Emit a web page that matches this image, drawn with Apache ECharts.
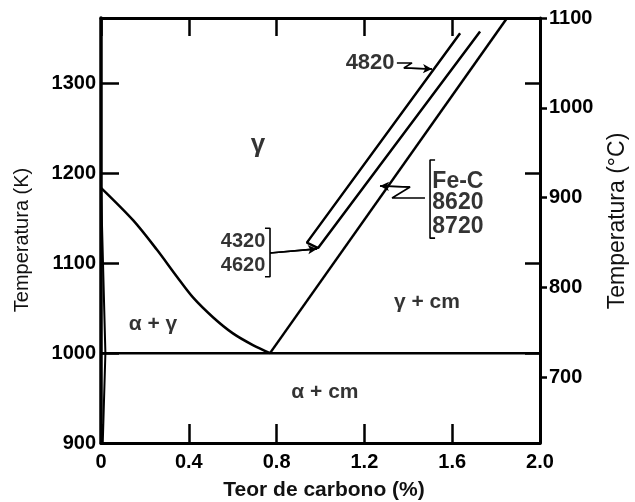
<!DOCTYPE html>
<html><head><meta charset="utf-8">
<script src="https://cdn.jsdelivr.net/npm/echarts@6/dist/echarts.min.js"></script>
<style>html,body{margin:0;padding:0;background:#fff}#c{width:635px;height:502px}</style>
</head><body><div id="c"></div>
<script>
// ---- axis ticks ----
const carbonTicks = [0, 0.4, 0.8, 1.2, 1.6, 2.0];
const kelvinTicks = [900, 1000, 1100, 1200, 1300];
const celsiusTicks = [700, 800, 900, 1000, 1100];

// ---- phase boundaries (carbon %, temperature K) ----
const a3Carbon = [0, 0.146, 0.255, 0.346, 0.419, 0.510, 0.601, 0.692, 0.77];
const a3Temp   = [1184, 1148, 1115, 1085, 1062, 1040, 1022, 1009, 1000];
const alphaCarbon = [0, 0.02, 0.008];
const alphaTemp   = [1184, 1000, 900];
const eutectoidCarbon = [0, 2.0];
const eutectoidTemp   = [1000, 1000];
const acmFeCCarbon = [0.77, 1.85];
const acmFeCTemp   = [1000, 1373];
const acmAlloyCarbon = [1.636, 0.938, 0.989, 1.727];
const acmAlloyTemp   = [1356, 1123, 1117, 1358];

// ---- annotation pointers ----
const bracket4320Carbon = [0.747, 0.770, 0.770, 0.747];
const bracket4320Temp   = [1139, 1139, 1085, 1085];
const pointer4320Carbon = [0.770, 0.984];
const pointer4320Temp   = [1111.5, 1116];
const pointer4820Carbon = [1.348, 1.417, 1.380, 1.508];
const pointer4820Temp   = [1323, 1323, 1317.4, 1316.3];
const bracketFeCCarbon = [1.522, 1.499, 1.499, 1.522];
const bracketFeCTemp   = [1215, 1215, 1128, 1128];
const pointerFeCCarbon = [1.476, 1.326, 1.408, 1.271];
const pointerFeCTemp   = [1172.7, 1172.7, 1184.9, 1186];

// ---- labels ----
const gammaNames   = ['γ'];
const gammaCarbon  = [0.715];
const gammaTemp    = [1232];
const regionNames  = ['α + γ', 'γ + cm', 'α + cm'];
const regionCarbon = [0.237, 1.485, 1.020];
const regionTemp   = [1032, 1057, 956];
const steelANames  = ['4320', '4620'];
const steelACarbon = [0.647, 0.647];
const steelATemp   = [1124, 1098];
const steelBNames  = ['4820'];
const steelBCarbon = [1.226];
const steelBTemp   = [1323];
const steelCNames  = ['Fe-C', '8620', '8720'];
const steelCCarbon = [1.626, 1.626, 1.626];
const steelCTemp   = [1190.5, 1167, 1140.4];

const K0 = 273;
const pairs = (xs, ys) => xs.map((x, i) => [x, ys[i]]);
const FONT = 'Liberation Sans, Arial, sans-serif';

function curve(xs, ys, extra) {
  return Object.assign({
    type: 'line', data: pairs(xs, ys), showSymbol: false, symbol: 'none',
    lineStyle: { color: '#000', width: 2.5 }, silent: true, z: 3
  }, extra || {});
}
function pointer(xs, ys, arrow) {
  const p = pairs(xs, ys);
  const s = {
    type: 'line', data: p, showSymbol: false, symbol: 'none',
    lineStyle: { color: '#000', width: 1.6 }, silent: true, z: 4
  };
  if (arrow) {
    s.markLine = {
      silent: true, animation: false, symbol: ['none', 'arrow'], symbolSize: [7, 9],
      lineStyle: { color: '#000', width: 1.6, type: 'solid' }, label: { show: false },
      data: [[{ coord: p[p.length - 2] }, { coord: p[p.length - 1] }]]
    };
  }
  return s;
}
function labels(names, xs, ys, size) {
  return {
    type: 'scatter', symbolSize: 0, silent: true, z: 5,
    data: names.map((n, i) => ({ value: [xs[i], ys[i]], name: n })),
    label: {
      show: true, position: 'inside', formatter: p => p.name,
      color: '#000', fontFamily: FONT, fontWeight: 'bold', fontSize: size
    }
  };
}

const chart = echarts.init(document.getElementById('c'));
const tickLabel = { color: '#000', fontFamily: FONT, fontWeight: 'bold', fontSize: 20 };
chart.setOption({
  animation: false,
  backgroundColor: '#fff',
  grid: { left: 101, right: 95, top: 18, bottom: 59 },
  xAxis: [
    {
      type: 'value', min: carbonTicks[0], max: carbonTicks[carbonTicks.length - 1], interval: 0.4,
      axisLine: { onZero: false, lineStyle: { color: '#000', width: 3 } },
      axisTick: { inside: true, length: 19, lineStyle: { color: '#000', width: 2.5 } },
      axisLabel: Object.assign({ margin: 9, formatter: v => (Math.abs(v) < 1e-9 ? '0' : v.toFixed(1)) }, tickLabel),
      splitLine: { show: false }
    },
    {
      type: 'value', position: 'top', min: carbonTicks[0], max: carbonTicks[carbonTicks.length - 1], interval: 0.4,
      axisLine: { onZero: false, lineStyle: { color: '#000', width: 3 } },
      axisTick: { inside: true, length: 18, lineStyle: { color: '#000', width: 2.5 } },
      axisLabel: { show: false }, splitLine: { show: false }
    }
  ],
  yAxis: [
    {
      type: 'value', position: 'left', min: kelvinTicks[0], max: 1100 + K0, interval: 100,
      axisLine: { onZero: false, lineStyle: { color: '#000', width: 3.5 } },
      axisTick: { inside: true, length: 18, lineStyle: { color: '#000', width: 2.5 } },
      axisLabel: Object.assign({ margin: 5, showMaxLabel: false, formatter: v => String(v) }, tickLabel),
      splitLine: { show: false }
    },
    {
      type: 'value', position: 'right', min: kelvinTicks[0] - K0, max: 1100,
      axisLine: { onZero: false, lineStyle: { color: '#000', width: 3 } },
      axisTick: { inside: false, length: 7, customValues: celsiusTicks, lineStyle: { color: '#000', width: 2.5 } },
      axisLabel: Object.assign({ margin: 9, customValues: celsiusTicks, formatter: v => String(v) }, tickLabel),
      splitLine: { show: false }
    },
    {
      type: 'value', position: 'right', min: kelvinTicks[0], max: 1100 + K0, interval: 100,
      axisLine: { show: false, onZero: false },
      axisTick: { inside: true, length: 15, lineStyle: { color: '#000', width: 2.5 } },
      axisLabel: { show: false }, splitLine: { show: false }
    }
  ],
  graphic: [
    { type: 'text', x: 22, y: 240, rotation: Math.PI / 2,
      style: { text: 'Temperatura (K)', fill: '#111', font: '20px ' + FONT, align: 'center', verticalAlign: 'middle' } },
    { type: 'text', x: 618, y: 221, rotation: Math.PI / 2,
      style: { text: 'Temperatura (°C)', fill: '#111', font: '23px ' + FONT, align: 'center', verticalAlign: 'middle' } },
    { type: 'text', x: 324, y: 490,
      style: { text: 'Teor de carbono (%)', fill: '#111', font: 'bold 21px ' + FONT, align: 'center', verticalAlign: 'middle' } }
  ],
  series: [
    curve(a3Carbon, a3Temp, { smooth: 0.3 }),
    curve(alphaCarbon, alphaTemp, { lineStyle: { color: '#000', width: 2 } }),
    curve(eutectoidCarbon, eutectoidTemp),
    curve(acmFeCCarbon, acmFeCTemp),
    curve(acmAlloyCarbon, acmAlloyTemp),
    pointer(bracket4320Carbon, bracket4320Temp, false),
    pointer(pointer4320Carbon, pointer4320Temp, true),
    pointer(pointer4820Carbon, pointer4820Temp, true),
    pointer(bracketFeCCarbon, bracketFeCTemp, false),
    pointer(pointerFeCCarbon, pointerFeCTemp, true),
    labels(gammaNames, gammaCarbon, gammaTemp, 26),
    labels(regionNames, regionCarbon, regionTemp, 21),
    labels(steelANames, steelACarbon, steelATemp, 20),
    labels(steelBNames, steelBCarbon, steelBTemp, 22),
    labels(steelCNames, steelCCarbon, steelCTemp, 23)
  ]
});
</script></body></html>
